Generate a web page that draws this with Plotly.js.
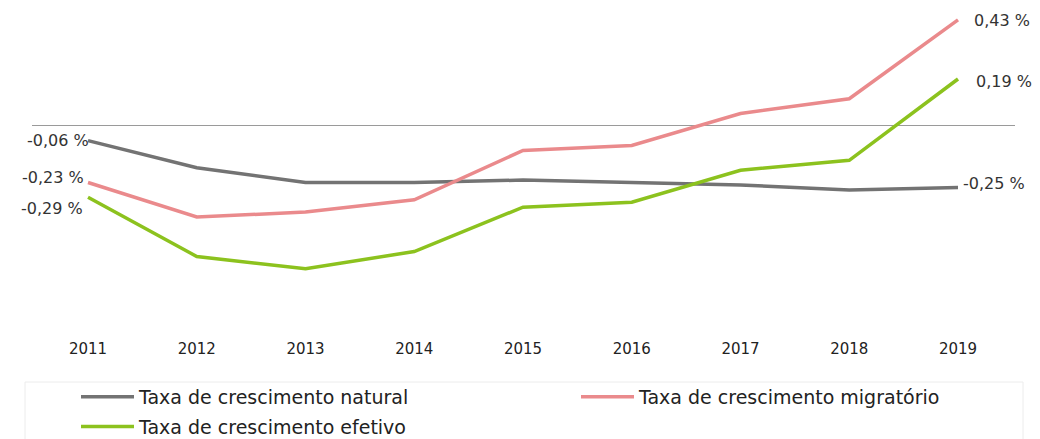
<!DOCTYPE html>
<html><head><meta charset="utf-8">
<script src="https://cdn.plot.ly/plotly-3.0.1.min.js"></script>
<style>html,body{margin:0;padding:0;background:#fff}#chart{width:1040px;height:439px}</style>
</head><body><div id="chart"></div>
<script>
const years = [2011,2012,2013,2014,2015,2016,2017,2018,2019];
const natural = [-0.06,-0.17,-0.23,-0.23,-0.22,-0.23,-0.24,-0.26,-0.25];
const migratorio = [-0.23,-0.37,-0.35,-0.30,-0.10,-0.08,0.05,0.11,0.43];
const efetivo = [-0.29,-0.53,-0.58,-0.51,-0.33,-0.31,-0.18,-0.14,0.19];
const seriesNames = ['Taxa de crescimento natural','Taxa de crescimento migratório','Taxa de crescimento efetivo'];
const colors = ['#737373','#ea8a8c','#8cc21e'];
const legendIds = ['legend','legend2','legend'];

const fmt = v => (v<0?'-':'') + Math.abs(v).toFixed(2).replace('.',',') + ' %';
const F = 'DejaVu Sans, sans-serif';

const data = [natural, migratorio, efetivo].map((ys,i)=>({
  x: years, y: ys, type:'scatter', mode:'lines', name: seriesNames[i],
  legend: legendIds[i], legendgroup: 'g'+i,
  line:{color:colors[i], width:3.5}, hoverinfo:'skip'
}));

const last = years.length-1;
const annotations = [
  {x:years[0], y:natural[0], xanchor:'right', xshift:3, yshift:0},
  {x:years[0], y:migratorio[0], xanchor:'right', xshift:-2, yshift:5},
  {x:years[0], y:efetivo[0], xanchor:'right', xshift:-3, yshift:-11},
  {x:years[last], y:migratorio[last], xanchor:'left', xshift:14, yshift:-1},
  {x:years[last], y:efetivo[last], xanchor:'left', xshift:16, yshift:-2},
  {x:years[last], y:natural[last], xanchor:'left', xshift:3, yshift:4}
].map((a,i)=>Object.assign(a,{
  text: fmt(a.y), showarrow:false, font:{family:F, size:16, color:'#333'}, yanchor:'middle'
}));

const px = p => (p-32)/983;   // pixel x -> paper
const py = p => (323-p)/313;  // pixel y -> paper
const cy = p => 1 - p/439;    // pixel y -> container
const legendBase = {orientation:'v', xref:'paper', yref:'container', xanchor:'left', yanchor:'top',
  borderwidth:0, bgcolor:'rgba(0,0,0,0)', font:{family:F, size:19, color:'#222'},
  itemwidth:53, traceorder:'grouped', tracegroupgap:2};

const layout = {
  width:1040, height:439,
  margin:{l:32, r:25, t:10, b:116},
  paper_bgcolor:'#fff', plot_bgcolor:'#fff',
  showlegend:true,
  xaxis:{range:[2010.485,2019.524], tickvals:years, ticktext:years.map(String),
    showgrid:false, zeroline:false, showline:false, ticks:'outside', ticklen:12,
    tickcolor:'rgba(0,0,0,0)', tickfont:{family:F, size:15, color:'#222'}},
  yaxis:{range:[-0.8,0.47], showgrid:false, zeroline:true, zerolinecolor:'#9a9a9a',
    zerolinewidth:1, showticklabels:false, showline:false, ticks:''},
  legend: Object.assign({}, legendBase, {x:px(76), y:cy(378)}),
  legend2: Object.assign({}, legendBase, {x:px(576), y:cy(378)}),
  shapes:[{type:'rect', xref:'paper', yref:'paper', x0:px(25), x1:px(1023),
    y0:py(470), y1:py(382), line:{color:'#ececec', width:1}, fillcolor:'rgba(0,0,0,0)'}],
  annotations
};
Plotly.newPlot('chart', data, layout, {displayModeBar:false, staticPlot:true});
</script></body></html>
